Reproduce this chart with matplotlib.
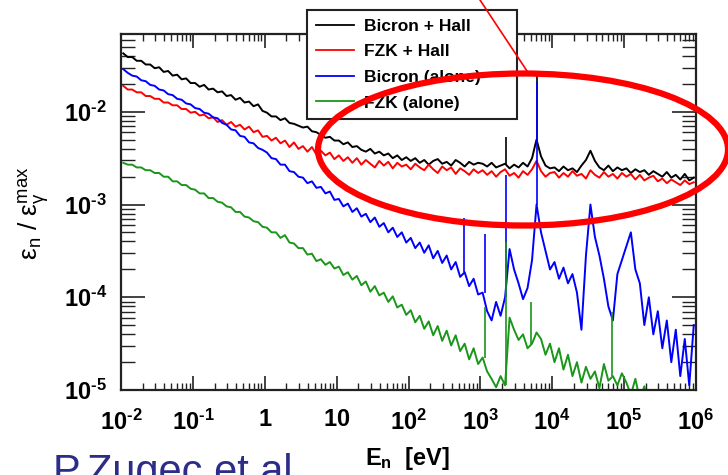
import numpy as np
import matplotlib
matplotlib.use('Agg')
import matplotlib.pyplot as plt
from matplotlib.patches import Ellipse
from matplotlib.lines import Line2D
from matplotlib.ticker import LogLocator, NullFormatter

plt.rcParams['font.family'] = 'Liberation Sans'
plt.rcParams['mathtext.fontset'] = 'custom'
plt.rcParams['mathtext.rm'] = 'Liberation Sans'
plt.rcParams['mathtext.bf'] = 'Liberation Sans:bold'
plt.rcParams['mathtext.it'] = 'Liberation Sans:italic'

# histogram bins: 16 per decade, 1e-2 .. 1e6 eV
edges = np.logspace(-2, 6, 129)
centers = np.sqrt(edges[:-1] * edges[1:])

# log10 of efficiency ratio per bin
bicron_hall = [
    -1.37, -1.41, -1.41, -1.45, -1.45, -1.49, -1.49, -1.53, -1.52, -1.57, -1.56, -1.61, -1.60, -1.65, -1.64, -1.69,
    -1.69, -1.73, -1.71, -1.76, -1.75, -1.79, -1.78, -1.83, -1.82, -1.87, -1.85, -1.90, -1.89, -1.94, -1.92, -1.99,
    -2.01, -2.05, -2.05, -2.09, -2.07, -2.12, -2.13, -2.15, -2.17, -2.16, -2.21, -2.22, -2.25, -2.28, -2.27, -2.31,
    -2.31, -2.35, -2.33, -2.38, -2.37, -2.41, -2.43, -2.40, -2.45, -2.43, -2.47, -2.45, -2.50, -2.47, -2.52, -2.49,
    -2.53, -2.50, -2.55, -2.52, -2.57, -2.53, -2.51, -2.56, -2.54, -2.58, -2.52, -2.55, -2.59, -2.54, -2.57, -2.55,
    -2.56, -2.59, -2.55, -2.60, -2.58, -2.56, -2.61, -2.57, -2.60, -2.55, -2.59, -2.50, -2.30, -2.48, -2.58, -2.61,
    -2.60, -2.64, -2.59, -2.63, -2.61, -2.65, -2.58, -2.52, -2.42, -2.53, -2.60, -2.63, -2.58, -2.64, -2.60, -2.63,
    -2.61, -2.66, -2.62, -2.65, -2.63, -2.68, -2.64, -2.67, -2.70, -2.65, -2.71, -2.68, -2.73, -2.67, -2.74, -2.71,
]
fzk_hall = [
    -1.72, -1.76, -1.76, -1.79, -1.79, -1.83, -1.83, -1.86, -1.86, -1.90, -1.90, -1.93, -1.93, -1.97, -1.97, -2.01,
    -2.00, -2.04, -2.03, -2.07, -2.06, -2.11, -2.09, -2.14, -2.11, -2.16, -2.14, -2.19, -2.16, -2.22, -2.20, -2.27,
    -2.26, -2.31, -2.28, -2.34, -2.31, -2.38, -2.33, -2.40, -2.37, -2.43, -2.38, -2.46, -2.42, -2.47, -2.44, -2.51,
    -2.47, -2.53, -2.49, -2.55, -2.50, -2.57, -2.52, -2.56, -2.60, -2.53, -2.58, -2.54, -2.61, -2.55, -2.59, -2.57,
    -2.62, -2.56, -2.60, -2.63, -2.57, -2.62, -2.66, -2.59, -2.63, -2.60, -2.67, -2.61, -2.64, -2.68, -2.62, -2.66,
    -2.63, -2.68, -2.64, -2.70, -2.65, -2.62, -2.69, -2.66, -2.71, -2.64, -2.68, -2.62, -2.53, -2.64, -2.70, -2.66,
    -2.65, -2.71, -2.66, -2.70, -2.64, -2.69, -2.67, -2.72, -2.63, -2.68, -2.71, -2.65, -2.70, -2.67, -2.72, -2.66,
    -2.70, -2.67, -2.73, -2.68, -2.74, -2.71, -2.69, -2.75, -2.72, -2.77, -2.73, -2.76, -2.79, -2.74, -2.78, -2.76,
]
bicron_alone = [
    -1.54, -1.58, -1.61, -1.62, -1.66, -1.67, -1.71, -1.72, -1.76, -1.77, -1.81, -1.82, -1.86, -1.87, -1.91, -1.92,
    -1.96, -1.97, -2.01, -2.02, -2.06, -2.07, -2.12, -2.14, -2.19, -2.20, -2.26, -2.27, -2.33, -2.34, -2.39, -2.41,
    -2.44, -2.50, -2.51, -2.57, -2.57, -2.64, -2.65, -2.70, -2.71, -2.77, -2.75, -2.82, -2.81, -2.88, -2.86, -2.95,
    -2.94, -3.02, -2.99, -3.08, -3.04, -3.13, -3.10, -3.19, -3.14, -3.24, -3.20, -3.30, -3.25, -3.35, -3.30, -3.41,
    -3.36, -3.47, -3.41, -3.52, -3.44, -3.58, -3.50, -3.63, -3.55, -3.70, -3.62, -3.78, -3.73, -3.88, -3.80, -3.97,
    -3.95, -4.15, -4.25, -4.05, -4.20, -4.00, -3.48, -3.70, -3.85, -4.02, -3.90, -3.60, -3.00, -3.30, -3.50, -3.70,
    -3.62, -3.80, -3.68, -3.85, -3.75, -3.95, -4.35, -3.55, -3.00, -3.35, -3.55, -3.80, -4.10, -4.25, -3.75, -3.60,
    -3.45, -3.30, -3.70, -3.85, -4.30, -4.00, -4.40, -4.15, -4.55, -4.25, -4.70, -4.35, -4.85, -4.45, -4.95, -4.30,
]
fzk_alone = [
    -2.55, -2.57, -2.57, -2.60, -2.60, -2.63, -2.63, -2.66, -2.66, -2.70, -2.70, -2.75, -2.75, -2.79, -2.79, -2.83,
    -2.84, -2.88, -2.88, -2.93, -2.93, -2.97, -2.98, -3.02, -3.03, -3.08, -3.08, -3.13, -3.14, -3.18, -3.19, -3.24,
    -3.25, -3.30, -3.30, -3.36, -3.33, -3.41, -3.42, -3.47, -3.47, -3.54, -3.53, -3.61, -3.59, -3.65, -3.62, -3.69,
    -3.67, -3.76, -3.73, -3.81, -3.77, -3.87, -3.83, -3.94, -3.88, -3.98, -3.95, -4.05, -3.99, -4.11, -4.08, -4.19,
    -4.14, -4.27, -4.20, -4.34, -4.26, -4.41, -4.31, -4.47, -4.36, -4.52, -4.41, -4.58, -4.50, -4.67, -4.55, -4.72,
    -4.65, -4.80, -4.88, -4.97, -4.85, -4.95, -4.22, -4.35, -4.46, -4.40, -4.55, -4.50, -4.38, -4.45, -4.62, -4.50,
    -4.70, -4.55, -4.78, -4.62, -4.85, -4.70, -4.92, -4.75, -4.88, -4.80, -4.98, -4.72, -4.90, -4.85, -4.95, -4.82,
    -4.92, -5.05, -4.88, -5.10, -4.96, -5.20, -5.05, -5.30, -5.10, -5.30, -5.20, -5.40, -5.30, -5.40, -5.30, -5.40,
]

# narrow resonance lines (energy in eV, log10 of top)
bicron_hall_lines_E = [2270, 6200]
bicron_hall_lines_top = [-2.27, -1.58]
bicron_alone_lines_E = [590, 1150, 2270, 6200]
bicron_alone_lines_top = [-3.14, -3.32, -2.68, -1.68]
fzk_alone_lines_E = [1150, 2270, 5000, 68000]
fzk_alone_lines_top = [-4.10, -3.40, -4.05, -4.16]

labels = ['Bicron + Hall', 'FZK + Hall', 'Bicron (alone)', 'FZK (alone)']
colors = ['black', '#ff0000', '#0000ff', '#1a961a']

HY = '\u2010'  # short hyphen as in the original exponents
x_ticks = [1e-2, 1e-1, 1, 10, 1e2, 1e3, 1e4, 1e5, 1e6]
x_ticklabels = [r'$\mathbf{10^{%s2}}$' % HY, r'$\mathbf{10^{%s1}}$' % HY, r'$\mathbf{1}$', r'$\mathbf{10}$',
                r'$\mathbf{10^{2}}$', r'$\mathbf{10^{3}}$', r'$\mathbf{10^{4}}$', r'$\mathbf{10^{5}}$',
                r'$\mathbf{10^{6}}$']
y_ticks = [1e-5, 1e-4, 1e-3, 1e-2]
y_ticklabels = [r'$\mathbf{10^{%s5}}$' % HY, r'$\mathbf{10^{%s4}}$' % HY,
                r'$\mathbf{10^{%s3}}$' % HY, r'$\mathbf{10^{%s2}}$' % HY]

W, H = 728, 475
fig = plt.figure(figsize=(W / 100, H / 100), dpi=100)
ax = fig.add_axes([121 / W, 1 - 390 / H, 575 / W, 356 / H])

series = [
    (bicron_hall, bicron_hall_lines_E, bicron_hall_lines_top),
    (fzk_hall, [], []),
    (bicron_alone, bicron_alone_lines_E, bicron_alone_lines_top),
    (fzk_alone, fzk_alone_lines_E, fzk_alone_lines_top),
]
for (vals, lines_E, lines_top), col in zip(series, colors):
    v = 10.0 ** np.array(vals)
    ax.plot(centers, v, color=col, lw=1.4)
    if lines_E:
        idx = np.searchsorted(edges, lines_E) - 1
        ax.vlines(lines_E, v[idx], 10.0 ** np.array(lines_top), color=col, lw=1.2)

ax.set_xscale('log')
ax.set_yscale('log')
ax.set_xlim(1e-2, 1e6)
ax.set_ylim(1e-5, 0.069)

ax.set_xticks(x_ticks)
ax.set_xticklabels(x_ticklabels)
ax.set_yticks(y_ticks)
ax.set_yticklabels(y_ticklabels)
ax.xaxis.set_minor_locator(LogLocator(base=10, subs=np.arange(2, 10), numticks=100))
ax.yaxis.set_minor_locator(LogLocator(base=10, subs=np.arange(2, 10), numticks=100))
ax.xaxis.set_minor_formatter(NullFormatter())
ax.yaxis.set_minor_formatter(NullFormatter())

ax.tick_params(which='both', direction='in', top=True, right=True, color='#222222')
ax.tick_params(axis='x', which='major', length=10, width=1.2, pad=14, labelsize=17)
ax.tick_params(axis='x', which='minor', length=5, width=1.0)
ax.tick_params(axis='y', which='major', length=17, width=1.2, pad=10, labelsize=17)
ax.tick_params(axis='y', which='minor', length=10, width=1.0)
for s in ax.spines.values():
    s.set_linewidth(1.6)
    s.set_color('#222222')

ax.set_xlabel(r'$\mathbf{E_n}$  [eV]', fontsize=17, fontweight='bold')
ax.xaxis.set_label_coords(0.499, -0.155)
ax.set_ylabel(r'$\mathregular{\varepsilon_n\ /\ \varepsilon_\gamma^{max}}$', fontsize=19)
ax.yaxis.set_label_coords(-0.12, 0.497)

handles = [Line2D([], [], color=c, lw=1.3) for c in colors]
leg = ax.legend(handles, labels, loc='upper left',
                bbox_to_anchor=(307 / W, 1 - 117 / H, 210 / W, 107 / H),
                bbox_transform=fig.transFigure, mode='expand', borderaxespad=0,
                fancybox=False, framealpha=1, edgecolor='#222222',
                prop={'weight': 'bold', 'size': 12.5},
                handlelength=2.2, handletextpad=0.6, borderpad=0.5, labelspacing=0.6)
leg.get_frame().set_linewidth(1.5)

# annotation: red ellipse and pointer line
fig.add_artist(Ellipse((523 / W, 1 - 149.5 / H), 410 / W, 152 / H, transform=fig.transFigure,
                       fill=False, edgecolor='#ff0000', lw=4.5))
fig.add_artist(Line2D([480 / W, 527 / W], [1, 1 - 71 / H], transform=fig.transFigure,
                      color='#ff0000', lw=1.2))

# the credit line runs off the bottom edge in the original slide
fig.text(53 / W, 1 - 484 / H, 'P.Zugec et.al', fontsize=30, color='#2b2d86',
         ha='left', va='baseline')

fig.savefig('out.png', dpi=100)
